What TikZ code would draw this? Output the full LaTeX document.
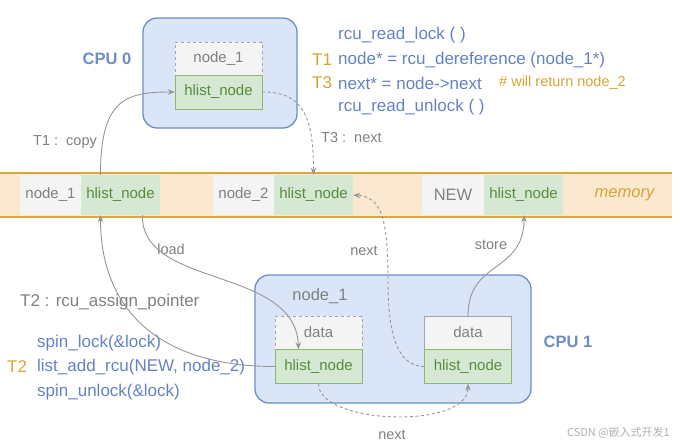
\documentclass[tikz,border=0pt]{standalone}
\usepackage{fontspec}
\setmainfont{Liberation Sans}
\newfontfamily\cjk{Noto Sans CJK SC}
\usetikzlibrary{arrows.meta}
\definecolor{cpufill}{RGB}{218,230,248}
\definecolor{cpuline}{RGB}{108,142,196}
\definecolor{codeblue}{RGB}{100,130,195}
\definecolor{tcolor}{RGB}{214,164,54}
\definecolor{txtgray}{RGB}{128,128,128}
\definecolor{txtgreen}{RGB}{88,140,58}
\definecolor{boxgray}{RGB}{244,244,244}
\definecolor{linegray}{RGB}{165,165,165}
\definecolor{boxgreen}{RGB}{213,232,212}
\definecolor{linegreen}{RGB}{140,185,110}
\definecolor{memfill}{RGB}{250,232,208}
\definecolor{memline}{RGB}{214,168,66}
\definecolor{arrgray}{RGB}{150,150,150}
\definecolor{wmgray}{RGB}{175,175,175}
\begin{document}
\begin{tikzpicture}[x=1pt,y=-1pt,
  cpu/.style={draw=cpuline,fill=cpufill,line width=1.3pt,rounded corners=14pt},
  mgray/.style={fill=boxgray,minimum width=#1,minimum height=40pt,inner sep=0pt,text=txtgray,font=\fontsize{15}{18}\selectfont},
  mgreen/.style={fill=boxgreen,minimum width=#1,minimum height=40pt,inner sep=0pt,text=txtgreen,font=\fontsize{15}{18}\selectfont},
  dbox/.style={draw=linegray,fill=boxgray,dashed,minimum width=87pt,minimum height=33pt,inner sep=0pt,text=txtgray,font=\fontsize{15}{18}\selectfont},
  sbox/.style={dbox,solid},
  hbox/.style={draw=linegreen,fill=boxgreen,minimum width=87pt,minimum height=34pt,inner sep=0pt,text=txtgreen,font=\fontsize{15}{18}\selectfont},
  cpulabel/.style={text=cpuline,font=\bfseries\fontsize{16.5}{19}\selectfont},
  code/.style={anchor=west,inner sep=0pt,text=codeblue,font=\fontsize{17}{20}\selectfont},
  tlabel/.style={anchor=west,inner sep=0pt,text=tcolor,font=\fontsize{17}{20}\selectfont},
  elabel/.style={inner sep=0pt,text=txtgray,font=\fontsize{14.5}{17}\selectfont},
  arr/.style={draw=arrgray,line width=0.9pt,-{Stealth[length=7pt,width=5.5pt]}},
  dsh/.style={arr,dash pattern=on 3pt off 2.5pt}]
\useasboundingbox (0,0) rectangle (680,447);
\fill[memfill] (0,173) rectangle (672,217);
\draw[memline,line width=1.6pt] (0,173) -- (672,173) (0,217) -- (672,217);
\node[mgray=61pt] (m1) at (50.5,195) {node\_1};
\node[mgreen=79pt] (m1h) at (120.5,195) {hlist\_node};
\node[mgray=61pt] (m2) at (243.5,195) {node\_2};
\node[mgreen=79pt] (m2h) at (313.5,195) {hlist\_node};
\node[mgray=62pt,font=\fontsize{16.5}{19}\selectfont] (m3) at (453,195) {NEW};
\node[mgreen=79pt] (m3h) at (523.5,195) {hlist\_node};
\node[text=tcolor,font=\itshape\fontsize{16.5}{19}\selectfont] (mem) at (624.5,195) {memory};
\node[cpu,minimum width=154pt,minimum height=110pt] (cpu0) at (220,73) {};
\node[dbox] (c0d) at (218.5,58.5) {node\_1};
\node[hbox] (c0h) at (218.5,92) {hlist\_node};
\node[cpulabel] (l0) at (107,59) {CPU 0};
\node[cpu,minimum width=276pt,minimum height=128pt] (cpu1) at (393,339) {};
\node[elabel,font=\fontsize{16.5}{19}\selectfont] (c1t) at (320,296) {node\_1};
\node[dbox] (c1d) at (318.5,332.5) {data};
\node[hbox] (c1h) at (318.5,366.5) {hlist\_node};
\node[sbox] (d2) at (468,332.5) {data};
\node[hbox] (h2) at (468,366.5) {hlist\_node};
\node[cpulabel] (l1) at (568,342) {CPU 1};
\node[code] (r1) at (338,35) {rcu\_read\_lock ( )};
\node[code] (r2) at (338,60) {node* = rcu\_dereference (node\_1*)};
\node[code] (r3) at (338,83) {next* = node->next};
\node[code] (r4) at (338,107) {rcu\_read\_unlock ( )};
\node[tlabel] (t1) at (312,60) {T1};
\node[tlabel] (t3) at (312,83) {T3};
\node[tlabel,font=\fontsize{14.5}{17}\selectfont] (cm) at (499,83) {\# will return node\_2};
\node[elabel,anchor=west] (lc) at (33,142) {T1 :\ \ copy};
\node[elabel,anchor=west] (ln) at (321,138) {T3 :\ \ next};
\node[elabel,anchor=west,font=\fontsize{17}{20}\selectfont] (la) at (20,302) {T2 : rcu\_assign\_pointer};
\node[code] (s1) at (37,343) {spin\_lock(\&lock)};
\node[code] (s2) at (37,367) {list\_add\_rcu(NEW, node\_2)};
\node[code] (s3) at (37,392) {spin\_unlock(\&lock)};
\node[tlabel] (t2) at (7,367) {T2};
\node[elabel] (ld) at (171,249) {load};
\node[elabel] (st) at (491,245) {store};
\node[elabel] (nx1) at (364,251) {next};
\node[elabel] (nx2) at (392,435) {next};
\node[anchor=east,inner sep=0pt,text=wmgray,font=\cjk\fontsize{11}{13}\selectfont] (wm) at (670,433) {CSDN @嵌入式开发1};
\draw[arr] ([xshift=-20pt]m1h.north) .. controls +(0,-75) and +(-50,0) .. (c0h.west);
\draw[dsh] (c0h.east) .. controls +(40,0) and +(0,-60) .. (m2h.north);
\draw[arr] (c1h.west) .. controls +(-115,0) and +(0,95) .. ([xshift=-20pt]m1h.south);
\draw[arr] ([xshift=22pt]m1h.south) .. controls +(-2,73) and +(-3,-83) .. ([xshift=-20pt]c1h.north);
\draw[arr] (d2.north) .. controls +(0,-56) and +(0,58) .. ([xshift=0.5pt]m3h.south);
\draw[dsh] (h2.west) .. controls +(-32,0) and +(0,40) .. (388,280) .. controls +(0,-65) and +(27,2) .. (m2h.east);
\draw[dsh] (c1h.south) .. controls +(0,41) and +(0,46) .. (h2.south);
\end{tikzpicture}
\end{document}
